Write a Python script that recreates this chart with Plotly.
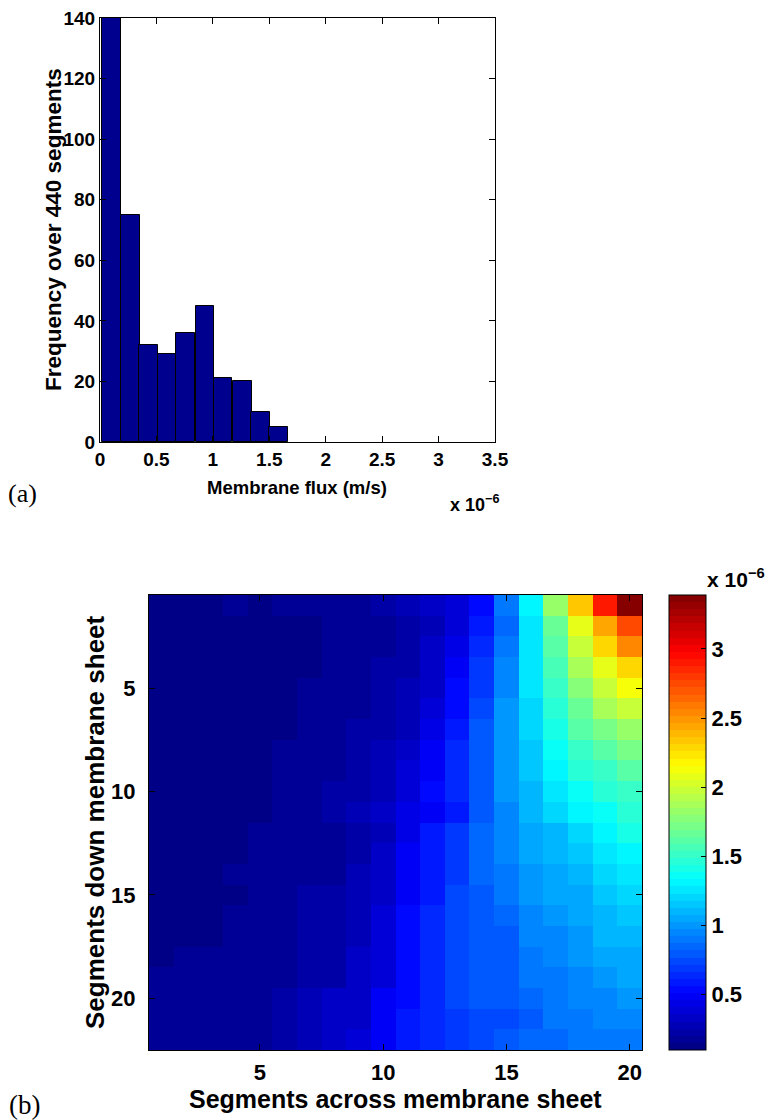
import plotly.graph_objects as go

# ---------------- Data ----------------
# (a) histogram of membrane flux (x 1e-6 m/s)
hist_bin_centers = [0.10, 0.27, 0.43, 0.60, 0.76, 0.93, 1.09, 1.26, 1.42, 1.58]
hist_counts = [167, 75, 32, 29, 36, 45, 21, 20, 10, 5]
hist_bin_width = 0.165

# (b) membrane flux map (x 1e-6 m/s), 22 rows (down) x 20 columns (across)
seg_across = list(range(1, 21))
seg_down = list(range(1, 23))
flux_rows = [
    [0.13,0.13,0.13,0.18,0.13,0.18,0.18,0.18,0.18,0.23,0.28,0.33,0.38,0.54,0.90,1.31,1.82,2.34,2.90,3.39],
    [0.13,0.13,0.13,0.13,0.13,0.13,0.13,0.18,0.18,0.18,0.23,0.28,0.38,0.59,0.85,1.26,1.67,2.08,2.44,2.75],
    [0.13,0.13,0.13,0.13,0.13,0.13,0.13,0.18,0.18,0.18,0.23,0.33,0.43,0.64,0.90,1.26,1.62,1.98,2.29,2.54],
    [0.13,0.13,0.13,0.13,0.13,0.13,0.13,0.18,0.18,0.23,0.23,0.33,0.49,0.69,0.95,1.26,1.57,1.87,2.08,2.29],
    [0.13,0.13,0.13,0.13,0.13,0.13,0.18,0.18,0.18,0.23,0.28,0.33,0.54,0.69,0.95,1.26,1.51,1.77,1.98,2.13],
    [0.13,0.13,0.13,0.13,0.13,0.13,0.18,0.18,0.18,0.23,0.28,0.38,0.54,0.74,1.00,1.21,1.46,1.67,1.87,1.98],
    [0.13,0.13,0.13,0.13,0.13,0.13,0.18,0.18,0.23,0.23,0.28,0.43,0.59,0.79,1.00,1.21,1.41,1.62,1.72,1.82],
    [0.13,0.13,0.13,0.13,0.13,0.18,0.18,0.18,0.23,0.28,0.33,0.49,0.64,0.79,1.00,1.15,1.36,1.51,1.62,1.72],
    [0.13,0.13,0.13,0.13,0.13,0.18,0.18,0.18,0.23,0.28,0.38,0.49,0.64,0.79,1.00,1.15,1.31,1.46,1.51,1.62],
    [0.13,0.13,0.13,0.13,0.13,0.18,0.18,0.23,0.23,0.28,0.38,0.54,0.64,0.79,1.00,1.10,1.26,1.36,1.46,1.51],
    [0.13,0.13,0.13,0.13,0.13,0.18,0.18,0.23,0.28,0.33,0.43,0.49,0.61,0.79,0.95,1.10,1.21,1.31,1.36,1.46],
    [0.13,0.13,0.13,0.13,0.18,0.18,0.18,0.18,0.23,0.28,0.43,0.59,0.69,0.85,0.95,1.05,1.10,1.21,1.31,1.41],
    [0.13,0.13,0.13,0.13,0.18,0.18,0.18,0.18,0.23,0.33,0.49,0.59,0.69,0.85,0.95,1.05,1.10,1.15,1.26,1.31],
    [0.13,0.13,0.13,0.18,0.18,0.18,0.18,0.18,0.28,0.33,0.49,0.59,0.69,0.85,0.90,1.00,1.05,1.10,1.21,1.26],
    [0.13,0.13,0.13,0.13,0.18,0.18,0.23,0.23,0.28,0.33,0.49,0.59,0.74,0.79,0.90,1.00,1.05,1.05,1.15,1.21],
    [0.13,0.13,0.13,0.18,0.18,0.18,0.23,0.23,0.28,0.38,0.54,0.64,0.74,0.79,0.85,0.95,1.00,1.05,1.10,1.15],
    [0.13,0.13,0.13,0.18,0.18,0.18,0.23,0.23,0.28,0.38,0.54,0.64,0.74,0.79,0.79,0.95,0.95,1.00,1.10,1.10],
    [0.13,0.18,0.18,0.18,0.18,0.18,0.23,0.23,0.33,0.38,0.54,0.64,0.74,0.79,0.79,0.90,0.95,1.00,1.05,1.05],
    [0.18,0.18,0.18,0.18,0.18,0.18,0.23,0.23,0.33,0.38,0.54,0.64,0.74,0.79,0.79,0.90,0.90,0.95,1.00,1.05],
    [0.18,0.18,0.18,0.18,0.18,0.23,0.28,0.33,0.33,0.49,0.54,0.64,0.74,0.79,0.79,0.85,0.90,0.95,0.95,1.00],
    [0.18,0.18,0.18,0.18,0.18,0.23,0.28,0.33,0.33,0.49,0.59,0.64,0.69,0.74,0.74,0.79,0.90,0.90,0.95,0.95],
    [0.18,0.18,0.18,0.18,0.18,0.23,0.28,0.33,0.38,0.49,0.59,0.64,0.69,0.74,0.79,0.85,0.85,0.90,0.90,0.90],
]
flux_min = 0.10
flux_max = 3.39

hist_xticks = [0, 0.5, 1, 1.5, 2, 2.5, 3, 3.5]
hist_yticks = [0, 20, 40, 60, 80, 100, 120, 140]
map_ticks = [5, 10, 15, 20]
cbar_ticks = [0.5, 1, 1.5, 2, 2.5, 3]

# ---------------- Style helpers ----------------
W, H = 776, 1120
def px_x(p): return p / W
def px_y(p): return 1 - p / H

def jet64():
    cols = []
    n = 64
    for i in range(n):
        t = (i + 0.5) / n
        r = min(max(min(4 * t - 1.5, -4 * t + 4.5), 0), 1)
        g = min(max(min(4 * t - 0.5, -4 * t + 3.5), 0), 1)
        b = min(max(min(4 * t + 0.5, -4 * t + 2.5), 0), 1)
        cols.append("rgb(%d,%d,%d)" % (round(r * 255), round(g * 255), round(b * 255)))
    scale = []
    for i, c in enumerate(cols):
        scale.append([i / n, c])
        scale.append([(i + 1) / n, c])
    return scale

SANS = "Liberation Sans, Arial, Helvetica, sans-serif"
SERIF = "Liberation Serif, Times New Roman, serif"

fig = go.Figure()

fig.add_trace(go.Bar(
    x=hist_bin_centers, y=hist_counts, width=hist_bin_width,
    marker=dict(color="rgb(0,0,143)", line=dict(color="black", width=1)),
    xaxis="x", yaxis="y", showlegend=False,
))

fig.add_trace(go.Heatmap(
    z=flux_rows, x=seg_across, y=seg_down,
    zmin=flux_min, zmax=flux_max, colorscale=jet64(),
    xaxis="x2", yaxis="y2",
    colorbar=dict(
        x=px_x(669), xanchor="left", xpad=0,
        y=px_y(1050), yanchor="bottom", len=(1050 - 595) / H, lenmode="fraction",
        thickness=37, thicknessmode="pixels", ypad=0,
        outlinecolor="black", outlinewidth=1,
        tickvals=cbar_ticks, ticktext=["0.5", "1", "1.5", "2", "2.5", "3"],
        ticks="inside", ticklen=5, tickcolor="black",
        tickfont=dict(family=SANS, size=22, color="black", weight="bold"),
    ),
))

axis_common = dict(showline=True, linecolor="black", linewidth=1, mirror="ticks",
                   ticks="inside", tickcolor="black", showgrid=False, zeroline=False,
                   automargin=False)

fig.update_layout(
    width=W, height=H, margin=dict(l=0, r=0, t=0, b=0, autoexpand=False),
    paper_bgcolor="white", plot_bgcolor="white",
    bargap=0,
    xaxis=dict(domain=[px_x(100), px_x(495)], range=[0, 3.5], tickvals=hist_xticks,
               ticktext=["0", "0.5", "1", "1.5", "2", "2.5", "3", "3.5"], ticklen=6,
               tickfont=dict(family=SANS, size=19, color="black", weight="bold"),
               anchor="y", **axis_common),
    yaxis=dict(domain=[px_y(442), px_y(18)], range=[0, 140], tickvals=hist_yticks, ticklen=6,
               tickfont=dict(family=SANS, size=19, color="black", weight="bold"),
               anchor="x", **axis_common),
    xaxis2=dict(domain=[px_x(149), px_x(642)], range=[0.5, 20.5], tickvals=map_ticks, ticklen=6,
                tickfont=dict(family=SANS, size=22, color="black", weight="bold"),
                ticklabelstandoff=3, anchor="y2", **axis_common),
    yaxis2=dict(domain=[px_y(1050), px_y(595)], range=[22.5, 0.5], tickvals=map_ticks, ticklen=6,
                tickfont=dict(family=SANS, size=22, color="black", weight="bold"),
                ticklabelstandoff=8, anchor="x2", **axis_common),
)

ann = [
    dict(text="Membrane flux (m/s)", x=px_x(297), y=px_y(487), xanchor="center", yanchor="middle",
         font=dict(family=SANS, size=18.5, color="black", weight="bold")),
    dict(text="Frequency over 440 segments", x=px_x(54), y=px_y(230), xanchor="center", yanchor="middle",
         textangle=-90, font=dict(family=SANS, size=22.5, color="black", weight="bold")),
    dict(text="x 10<sup>−6</sup>", x=px_x(448), y=px_y(503), xanchor="left", yanchor="middle",
         font=dict(family=SANS, size=18, color="black", weight="bold")),
    dict(text="(a)", x=px_x(6), y=px_y(493), xanchor="left", yanchor="middle",
         font=dict(family=SERIF, size=26, color="black")),
    dict(text="(b)", x=px_x(7), y=px_y(1105), xanchor="left", yanchor="middle",
         font=dict(family=SERIF, size=27, color="black")),
    dict(text="Segments across membrane sheet", x=px_x(395), y=px_y(1099), xanchor="center", yanchor="middle",
         font=dict(family=SANS, size=25, color="black", weight="bold")),
    dict(text="Segments down membrane sheet", x=px_x(95), y=px_y(822), xanchor="center", yanchor="middle",
         textangle=-90, font=dict(family=SANS, size=26, color="black", weight="bold")),
    dict(text="x 10<sup>−6</sup>", x=px_x(705), y=px_y(578), xanchor="left", yanchor="middle",
         font=dict(family=SANS, size=21, color="black", weight="bold")),
]
for a in ann:
    a.update(xref="paper", yref="paper", showarrow=False)
fig.update_layout(annotations=ann)

fig.write_html("out.html", config={"displayModeBar": False},
               post_script="document.body.style.margin='0px';")
